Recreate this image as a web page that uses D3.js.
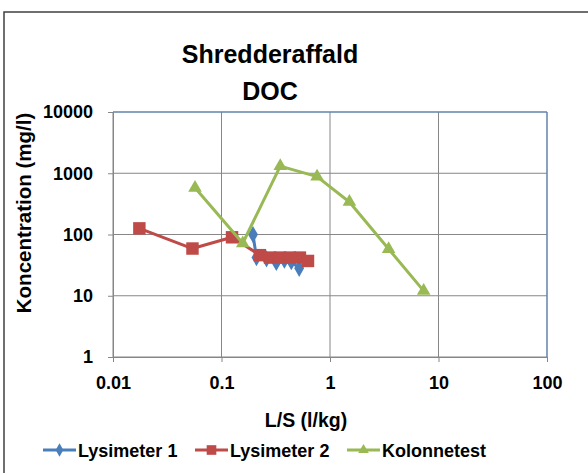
<!DOCTYPE html>
<html>
<head>
<meta charset="utf-8">
<script src="https://cdn.jsdelivr.net/npm/d3@7"></script>
<style>
  body { margin: 0; background: #fff; }
  text { font-family: "Liberation Sans", Arial, sans-serif; font-weight: bold; fill: #000; }
</style>
</head>
<body>
<script>
// L/S (l/kg) vs DOC (mg/l)
const lys1 = [[0.195, 100], [0.21, 42], [0.26, 40], [0.32, 35], [0.38, 38], [0.44, 36], [0.52, 28]];
const lys2 = [[0.0175, 126], [0.054, 59], [0.125, 90], [0.226, 46], [0.28, 42], [0.346, 42], [0.427, 42], [0.528, 42], [0.627, 37]];
const kolonne = [[0.057, 580], [0.157, 72], [0.348, 1310], [0.76, 880], [1.51, 340], [3.47, 58], [7.3, 12]];
const xTicks = [0.01, 0.1, 1, 10, 100];
const yTicks = [1, 10, 100, 1000, 10000];

const series = [
  { name: 'Lysimeter 1', data: lys1, color: '#4A7EBB', symbol: d3.symbolDiamond, size: 85 },
  { name: 'Lysimeter 2', data: lys2, color: '#BE4B48', symbol: d3.symbolSquare, size: 155 },
  { name: 'Kolonnetest', data: kolonne, color: '#98B954', symbol: d3.symbolTriangle, size: 80 }
];

const width = 588, height = 473;
const plot = { left: 113, right: 547, top: 112, bottom: 357 };

const svg = d3.select('body').append('svg')
    .attr('width', width)
    .attr('height', height);

// chart frame
svg.append('rect')
  .attr('x', 4).attr('y', 12)
  .attr('width', 600).attr('height', 500)
  .attr('fill', 'none')
  .attr('stroke', '#404040')
  .attr('stroke-width', 1.5);

const x = d3.scaleLog().domain([0.01, 100]).range([plot.left, plot.right]);
const y = d3.scaleLog().domain([1, 10000]).range([plot.bottom, plot.top]);

// grid
svg.append('g')
  .selectAll('line')
  .data(yTicks)
  .join('line')
    .attr('x1', plot.left).attr('x2', plot.right)
    .attr('y1', d => y(d)).attr('y2', d => y(d))
    .attr('stroke', '#878787').attr('stroke-width', 1);

svg.append('g')
  .selectAll('line')
  .data(xTicks)
  .join('line')
    .attr('y1', plot.top).attr('y2', plot.bottom)
    .attr('x1', d => x(d)).attr('x2', d => x(d))
    .attr('stroke', '#878787').attr('stroke-width', 1);

// top / right border
svg.append('path')
  .attr('d', `M${plot.left},${plot.top}H${plot.right}V${plot.bottom}`)
  .attr('fill', 'none')
  .attr('stroke', '#4F81BD')
  .attr('stroke-width', 1);

// axes
const xAxis = svg.append('g')
  .attr('transform', `translate(0,${plot.bottom})`)
  .call(d3.axisBottom(x).tickValues(xTicks).tickFormat(d3.format('~g')).tickSize(5).tickPadding(14));
const yAxis = svg.append('g')
  .attr('transform', `translate(${plot.left},0)`)
  .call(d3.axisLeft(y).tickValues(yTicks).tickFormat(d3.format('d')).tickSize(5).tickPadding(15));

[xAxis, yAxis].forEach(a => {
  a.select('.domain').attr('stroke', '#878787');
  a.selectAll('.tick line').attr('stroke', '#878787');
  a.selectAll('.tick text').attr('font-size', 18).attr('font-family', null);
});

// lines and markers
const line = d3.line().x(d => x(d[0])).y(d => y(d[1]));

series.forEach(s => {
  const g = svg.append('g');
  g.append('path')
    .attr('d', line(s.data))
    .attr('fill', 'none')
    .attr('stroke', s.color)
    .attr('stroke-width', 3)
    .attr('stroke-linejoin', 'round');
  g.selectAll('path.mark')
    .data(s.data)
    .join('path')
      .attr('class', 'mark')
      .attr('transform', d => `translate(${x(d[0])},${y(d[1])})`)
      .attr('d', d3.symbol().type(s.symbol).size(s.size))
      .attr('fill', s.color);
});

// titles
svg.append('text')
  .attr('x', 270).attr('y', 63)
  .attr('text-anchor', 'middle')
  .attr('font-size', 25)
  .text('Shredderaffald');
svg.append('text')
  .attr('x', 270).attr('y', 100)
  .attr('text-anchor', 'middle')
  .attr('font-size', 25)
  .text('DOC');

svg.append('text')
  .attr('transform', 'translate(31,213) rotate(-90)')
  .attr('text-anchor', 'middle')
  .attr('font-size', 20.5)
  .text('Koncentration (mg/l)');

svg.append('text')
  .attr('x', 306).attr('y', 427)
  .attr('text-anchor', 'middle')
  .attr('font-size', 19.5)
  .text('L/S (l/kg)');

// legend
const legendX = [43, 195, 347];
const legend = svg.append('g')
  .selectAll('g')
  .data(series)
  .join('g')
    .attr('transform', (d, i) => `translate(${legendX[i]},450)`);
legend.append('line')
  .attr('x1', 0).attr('x2', 33)
  .attr('stroke', d => d.color)
  .attr('stroke-width', 3);
legend.append('path')
  .attr('transform', 'translate(16.5,0)')
  .attr('d', d => d3.symbol().type(d.symbol).size(d.size * 0.6)())
  .attr('fill', d => d.color);
legend.append('text')
  .attr('x', 35).attr('y', 7)
  .attr('font-size', 18)
  .text(d => d.name);
</script>
</body>
</html>
